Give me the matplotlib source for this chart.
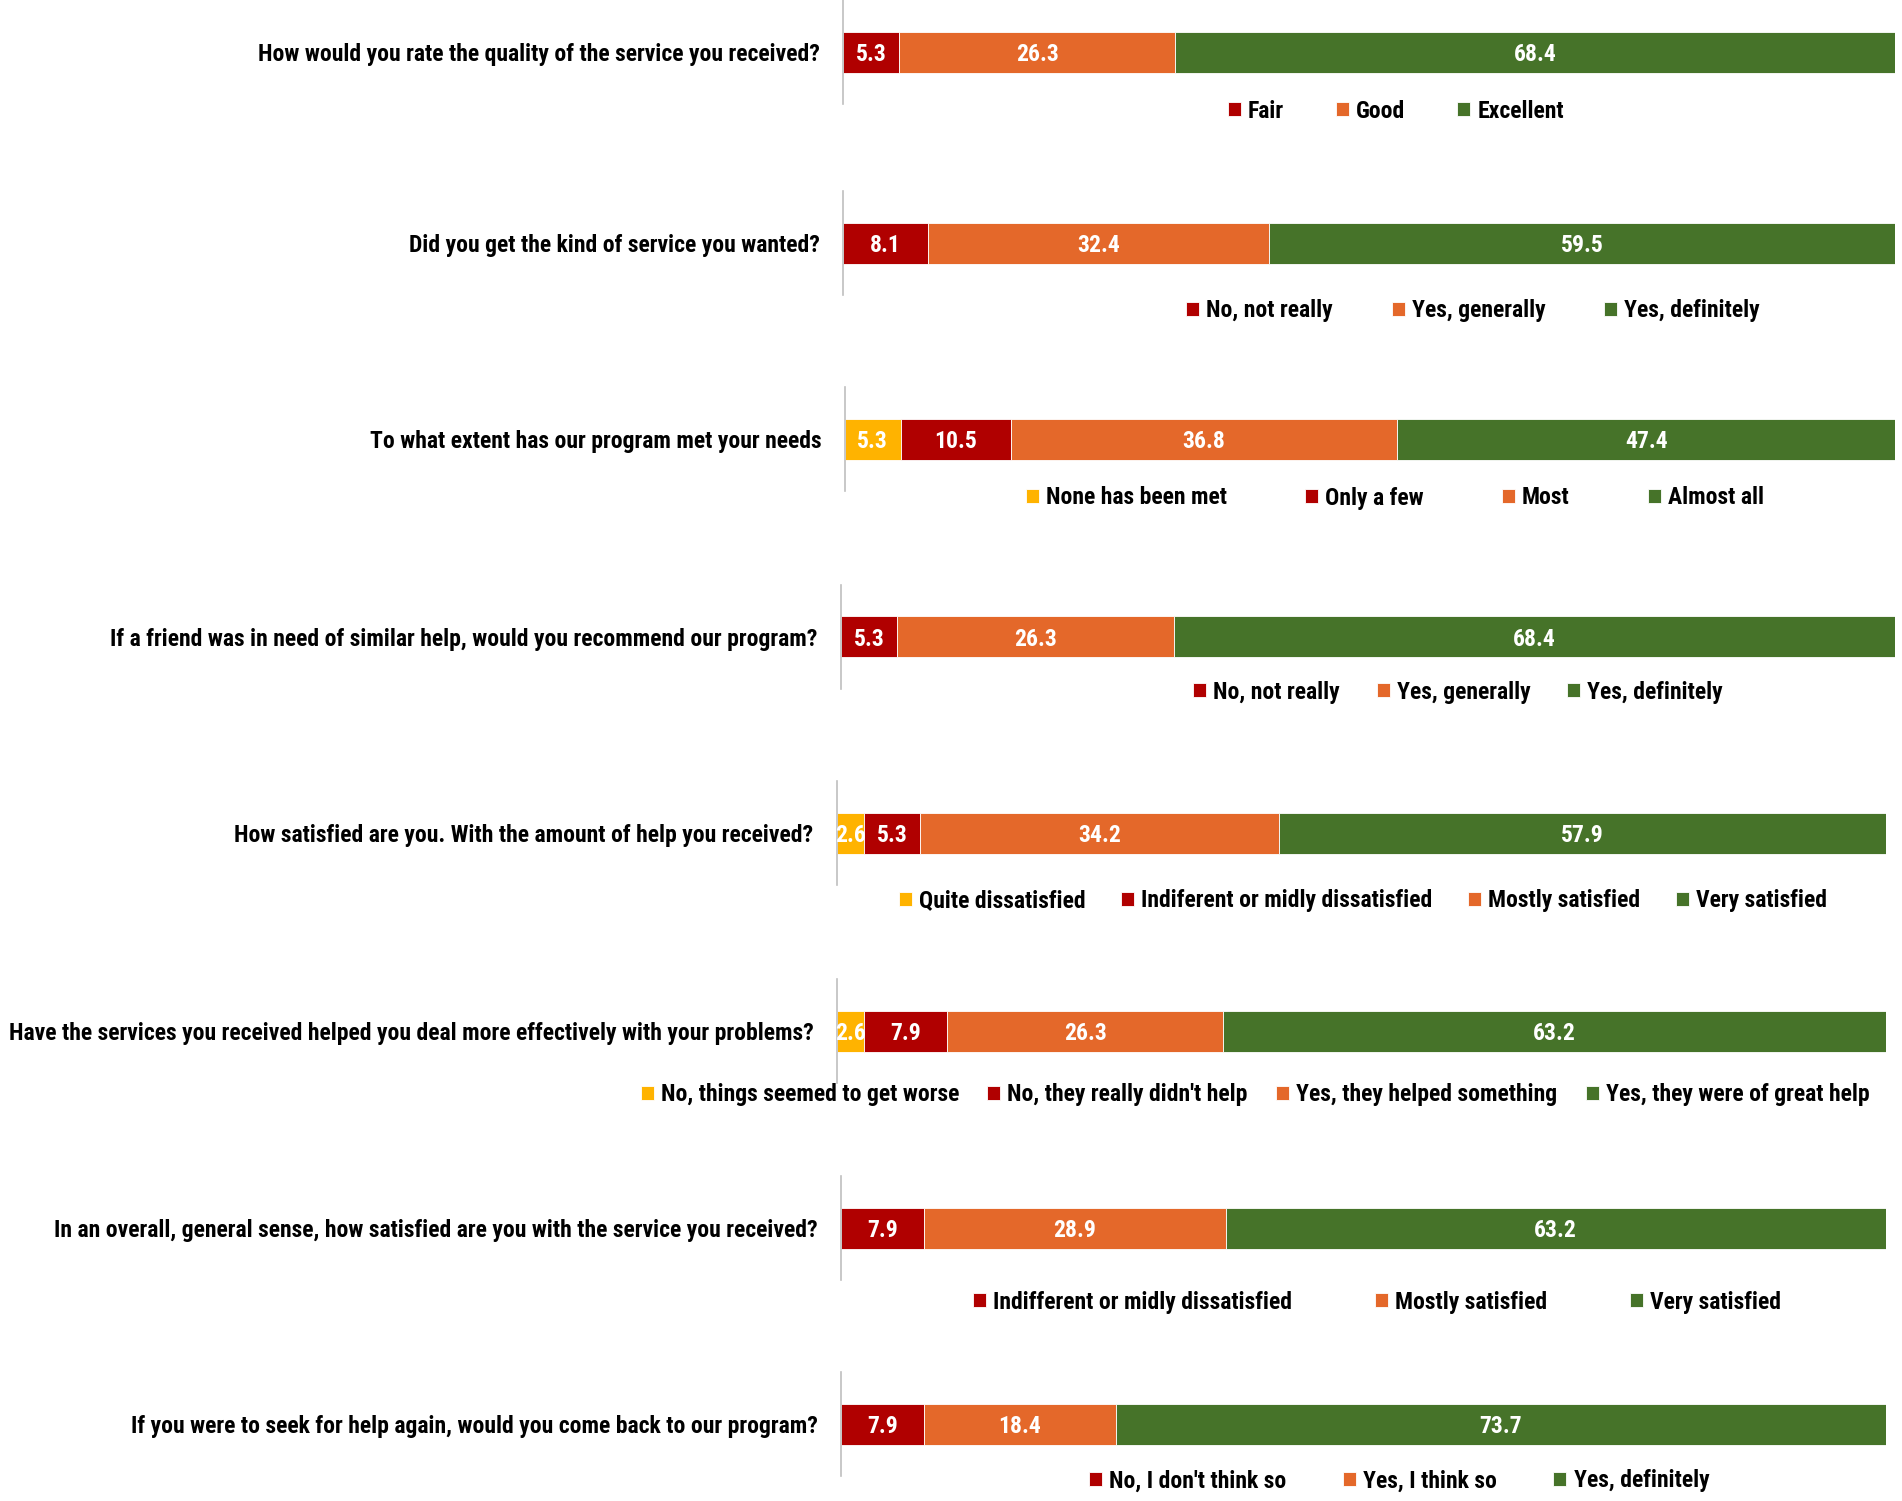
import matplotlib
matplotlib.use("Agg")
import matplotlib.pyplot as plt
from matplotlib import font_manager

# pick a narrow bold font if there is one
names = set(f.name for f in font_manager.fontManager.ttflist)
fam = [n for n in ["Liberation Sans Narrow", "Roboto Condensed", "Open Sans", "DejaVu Sans"] if n in names]
plt.rcParams['font.family'] = fam
plt.rcParams['font.weight'] = 'bold'

questions = [
    "How would you rate the quality of the service you received?",
    "Did you get the kind of service you wanted?",
    "To what extent has our program met your needs",
    "If a friend was in need of similar help, would you recommend our program?",
    "How satisfied are you. With the amount of help you received?",
    "Have the services you received helped you deal more effectively with your problems?",
    "In an overall, general sense, how satisfied are you with the service you received?",
    "If you were to seek for help again, would you come back to our program?",
]

q1_vals = [5.3, 26.3, 68.4]
q2_vals = [8.1, 32.4, 59.5]
q3_vals = [5.3, 10.5, 36.8, 47.4]
q4_vals = [5.3, 26.3, 68.4]
q5_vals = [2.6, 5.3, 34.2, 57.9]
q6_vals = [2.6, 7.9, 26.3, 63.2]
q7_vals = [7.9, 28.9, 63.2]
q8_vals = [7.9, 18.4, 73.7]

q1_cats = ["Fair", "Good", "Excellent"]
q2_cats = ["No, not really", "Yes, generally", "Yes, definitely"]
q3_cats = ["None has been met", "Only a few", "Most", "Almost all"]
q4_cats = ["No, not really", "Yes, generally", "Yes, definitely"]
q5_cats = ["Quite dissatisfied", "Indiferent or midly dissatisfied", "Mostly satisfied", "Very satisfied"]
q6_cats = ["No, things seemed to get worse", "No, they really didn't help",
           "Yes, they helped something", "Yes, they were of great help"]
q7_cats = ["Indifferent or midly dissatisfied", "Mostly satisfied", "Very satisfied"]
q8_cats = ["No, I don't think so", "Yes, I think so", "Yes, definitely"]

all_vals = [q1_vals, q2_vals, q3_vals, q4_vals, q5_vals, q6_vals, q7_vals, q8_vals]
all_cats = [q1_cats, q2_cats, q3_cats, q4_cats, q5_cats, q6_cats, q7_cats, q8_cats]

YELLOW = '#FFB300'
RED = '#B00000'
ORANGE = '#E4682A'
GREEN = '#467329'

# layout in pixels (figure is 1902 x 1501)
W, H = 1902, 1501
bar_centers = [52, 243, 439, 637, 833, 1031, 1228, 1424]
bar_lefts = [843, 843, 845, 841, 837, 837, 841, 841]
bar_rights = [1895, 1895, 1895, 1895, 1886, 1886, 1886, 1886]
leg_y = [111, 311, 498, 692, 901, 1095, 1302, 1481]
leg_x = [1396, 1473, 1395, 1458, 1363, 1255, 1377, 1399]
col_space = [2.2, 2.5, 3.3, 1.55, 1.5, 1.2, 3.5, 2.4]
half = 52
bar_h = 41 / (2 * half)
FS = 17

fig = plt.figure(figsize=(W / 100, H / 100), dpi=100)

for i in range(8):
    vals = all_vals[i]
    cats = all_cats[i]
    if len(vals) == 4:
        cols = [YELLOW, RED, ORANGE, GREEN]
    else:
        cols = [RED, ORANGE, GREEN]
    l = bar_lefts[i] / W
    w = (bar_rights[i] - bar_lefts[i]) / W
    b = 1 - (bar_centers[i] + half) / H
    ax = fig.add_axes([l, b, w, 2 * half / H])
    left = 0
    for v, c, lab in zip(vals, cols, cats):
        ax.barh(0, v, left=left, height=bar_h, color=c, label=lab,
                edgecolor='white', linewidth=0.6)
        ax.text(left + v / 2, -0.02, "%.1f" % v, ha='center', va='center',
                color='white', fontsize=FS, fontweight='bold')
        left += v
    ax.set_xlim(0, 100)
    ax.set_ylim(-0.5, 0.5)
    ax.set_xticks([])
    ax.set_yticks([0])
    ax.set_yticklabels([questions[i]], fontsize=FS, fontweight='bold')
    ax.tick_params(axis='y', length=0, pad=17)
    for s in ['top', 'right', 'bottom']:
        ax.spines[s].set_visible(False)
    ax.spines['left'].set_color('#BFBFBF')
    ax.spines['left'].set_linewidth(1.2)
    ax.patch.set_alpha(0)
    ax.legend(loc='center', bbox_to_anchor=(leg_x[i] / W, 1 - leg_y[i] / H),
              bbox_transform=fig.transFigure, ncol=len(vals), frameon=False,
              fontsize=FS, handlelength=0.55, handleheight=0.55,
              handletextpad=0.3, columnspacing=col_space[i], borderpad=0)

fig.savefig("out.png", dpi=100)
